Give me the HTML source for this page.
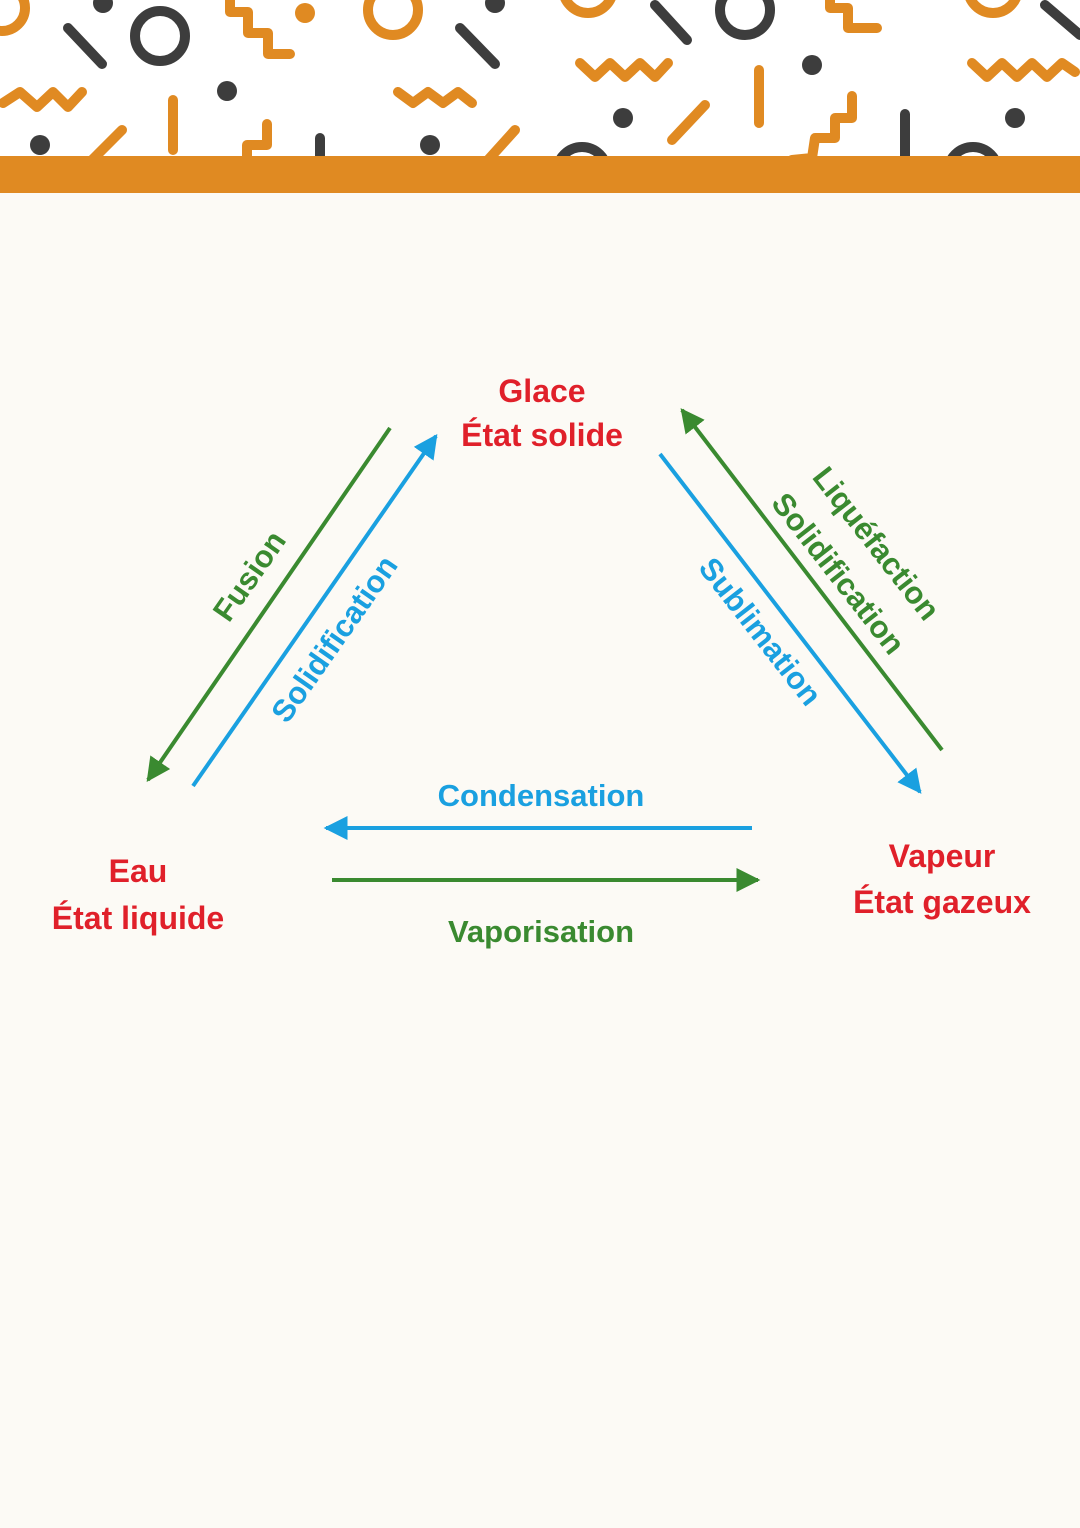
<!DOCTYPE html>
<html><head><meta charset="utf-8"><style>
html,body{margin:0;padding:0;background:#fcfaf5;}
svg{display:block}
</style></head><body>
<svg width="1080" height="1528" viewBox="0 0 1080 1528" xmlns="http://www.w3.org/2000/svg">
<defs>
 <clipPath id="top"><rect x="0" y="0" width="1080" height="157"/></clipPath>
 <marker id="ag" viewBox="0 0 10 10" refX="9" refY="5" markerWidth="6" markerHeight="6" orient="auto" markerUnits="strokeWidth"><path d="M0,0 L10,5 L0,10 z" fill="#3a8a30"/></marker>
 <marker id="ab" viewBox="0 0 10 10" refX="9" refY="5" markerWidth="6" markerHeight="6" orient="auto" markerUnits="strokeWidth"><path d="M0,0 L10,5 L0,10 z" fill="#1aa0e0"/></marker>
</defs>
<rect width="1080" height="1528" fill="#fcfaf5"/>
<rect width="1080" height="156" fill="#ffffff"/>
<g clip-path="url(#top)">
<g fill="none" stroke-linecap="round" stroke-linejoin="round" stroke-width="10">
 <g stroke="#e08a22">
  <circle cx="2" cy="8" r="23"/>
  <polyline points="230,0 230,12 248,12 248,33 268,33 268,54 290,54"/>
  <circle cx="393" cy="10" r="25"/>
  <polyline points="3,103 20,92 37,107 53,92 68,107 82,92"/>
  <line x1="173" y1="100" x2="173" y2="150"/>
  <polyline points="247,160 247,145 267,145 267,124"/>
  <polyline points="398,92 413,103 428,92 443,103 458,92 472,103 472,103"/>
  <line x1="92" y1="160" x2="122" y2="130"/>
  <line x1="488" y1="160" x2="515" y2="130"/>
  <circle cx="588" cy="-12" r="25"/>
  <polyline points="830,0 830,8 848,8 848,28 877,28"/>
  <circle cx="993" cy="-12" r="25"/>
  <polyline points="580,63 595,77 610,63 625,77 640,63 655,77 668,63"/>
  <line x1="759" y1="70" x2="759" y2="123"/>
  <line x1="672" y1="140" x2="705" y2="105"/>
  <polyline points="792,160 812,158 815,138 835,138 835,118 852,118 852,96"/>
  <polyline points="972,63 987,77 1002,63 1017,77 1032,63 1047,77 1062,63 1075,72"/>
 </g>
 <g stroke="#3d3d3d">
  <line x1="68" y1="28" x2="102" y2="64"/>
  <circle cx="160" cy="36" r="25"/>
  <line x1="460" y1="28" x2="495" y2="64"/>
  <line x1="655" y1="5" x2="687" y2="40"/>
  <circle cx="745" cy="10" r="25"/>
  <line x1="1045" y1="5" x2="1080" y2="35"/>
  <line x1="320" y1="138" x2="320" y2="160"/>
  <line x1="905" y1="114" x2="905" y2="160"/>
  <circle cx="582" cy="172" r="25"/>
  <circle cx="973" cy="172" r="25"/>
 </g>
</g>
</g>
<g fill="#3d3d3d">
 <circle cx="103" cy="3" r="10"/><circle cx="495" cy="3" r="10"/>
 <circle cx="227" cy="91" r="10"/><circle cx="40" cy="145" r="10"/><circle cx="430" cy="145" r="10"/>
 <circle cx="812" cy="65" r="10"/><circle cx="623" cy="118" r="10"/><circle cx="1015" cy="118" r="10"/>
</g>
<circle cx="305" cy="13" r="10" fill="#e08a22"/>
<rect x="0" y="156" width="1080" height="37" fill="#e08a22"/>

<g stroke-width="4" fill="none">
 <line x1="390" y1="428" x2="148" y2="780" stroke="#3a8a30" marker-end="url(#ag)"/>
 <line x1="193" y1="786" x2="436" y2="436" stroke="#1aa0e0" marker-end="url(#ab)"/>
 <line x1="660" y1="454" x2="920" y2="792" stroke="#1aa0e0" marker-end="url(#ab)"/>
 <line x1="942" y1="750" x2="682" y2="410" stroke="#3a8a30" marker-end="url(#ag)"/>
 <line x1="752" y1="828" x2="326" y2="828" stroke="#1aa0e0" marker-end="url(#ab)"/>
 <line x1="332" y1="880" x2="758" y2="880" stroke="#3a8a30" marker-end="url(#ag)"/>
</g>
<g font-family="Liberation Sans, sans-serif" font-size="32" font-weight="bold" text-anchor="middle" fill="#e0202a">
 <text x="542" y="402">Glace</text><text x="542" y="446">État solide</text>
 <text x="138" y="882">Eau</text><text x="138" y="929">État liquide</text>
 <text x="942" y="867">Vapeur</text><text x="942" y="913">État gazeux</text>
</g>
<g font-family="Liberation Sans, sans-serif" font-size="31" font-weight="bold" text-anchor="middle">
 <text x="541" y="806" fill="#1aa0e0">Condensation</text>
 <text x="541" y="942" fill="#3a8a30">Vaporisation</text>
 <text transform="translate(258,582) rotate(-55)" fill="#3a8a30">Fusion</text>
 <text transform="translate(343,645) rotate(-55)" fill="#1aa0e0">Solidification</text>
 <text transform="translate(752,638) rotate(52)" fill="#1aa0e0">Sublimation</text>
 <text transform="translate(868,550) rotate(52)" fill="#3a8a30">Liquéfaction</text>
 <text transform="translate(830,580) rotate(52)" fill="#3a8a30">Solidification</text>
</g>
</svg>
</body></html>
